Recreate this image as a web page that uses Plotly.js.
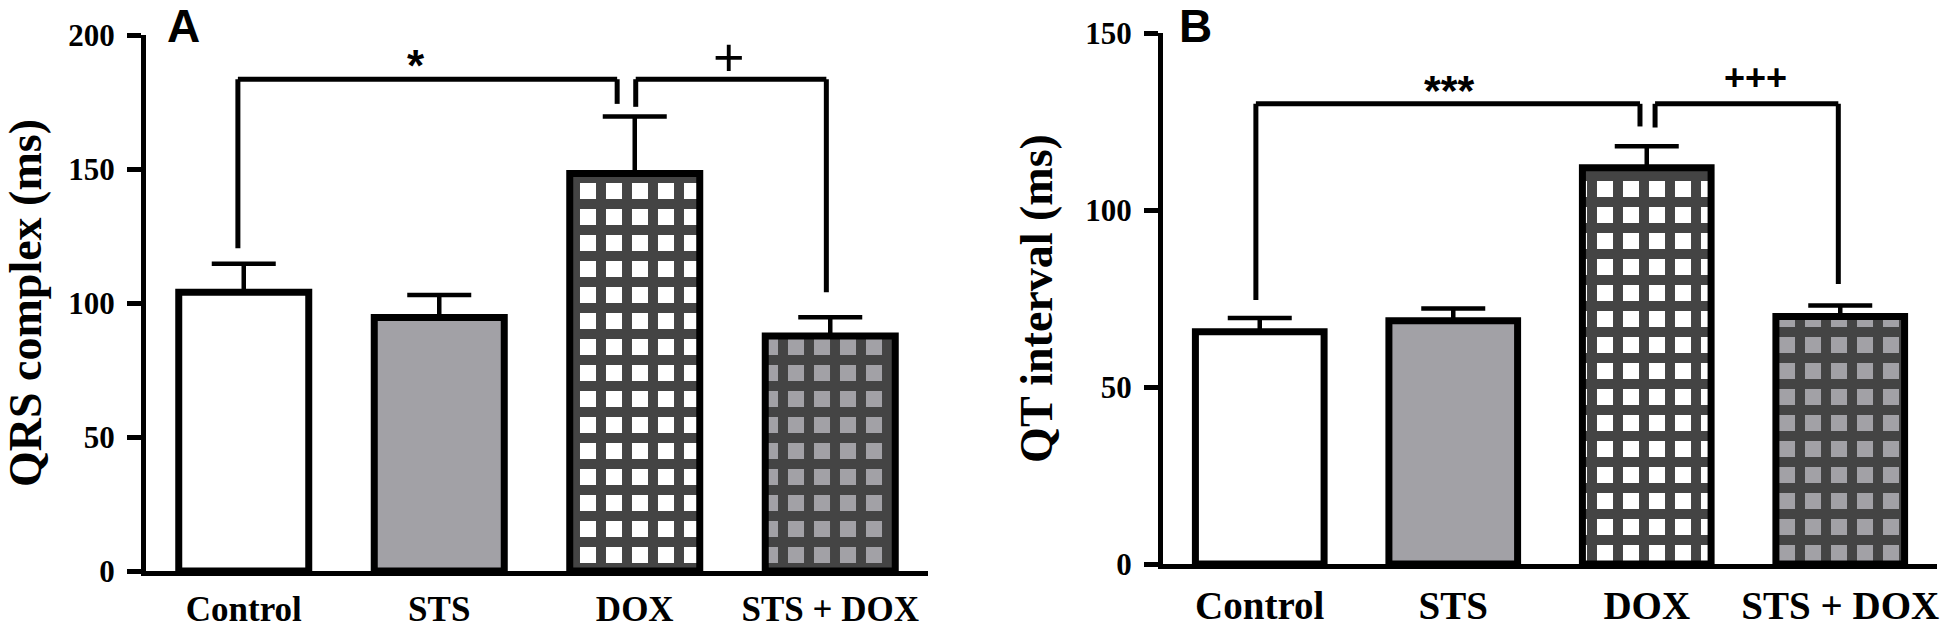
<!DOCTYPE html>
<html>
<head>
<meta charset="utf-8">
<script src="https://cdn.plot.ly/plotly-3.0.1.min.js"></script>
<style>html,body{margin:0;padding:0;background:#fff;}#chart{width:1943px;height:628px;}</style>
</head>
<body>
<div id="chart"></div>
<script>
// ---- data ----
const categories = ['Control', 'STS', 'DOX', 'STS + DOX'];
const qrsMean = [104, 94.6, 148.3, 87.7];
const qrsSem  = [10.6, 8.4, 21.3, 7.0];
const qtMean  = [65.6, 68.7, 111.9, 69.9];
const qtSem   = [3.9, 3.5, 6.1, 3.1];
const qrsTicks = [0, 50, 100, 150, 200];
const qtTicks  = [0, 50, 100, 150];
const qrsTitle = 'QRS complex (ms)';
const qtTitle  = 'QT interval (ms)';
const panelLetters = ['A', 'B'];
// significance comparisons: [fromIndex, toIndex, label]
const qrsSig = [[0, 2, '*'], [2, 3, '+']];
const qtSig  = [[0, 2, '***'], [2, 3, '+++']];

// ---- styles ----
const GRAY = '#a2a1a6';
const fills = ['#ffffff', GRAY, '#ffffff', GRAY];
const patShapes = ['', '', '+', '+'];
const serif = 'Liberation Serif, Times New Roman, serif';
const sans = 'Liberation Sans, Arial, sans-serif';

function barTrace(means, sems, xa, ya) {
  return {
    type: 'bar', x: categories, y: means, xaxis: xa, yaxis: ya,
    width: 0.665, showlegend: false, hoverinfo: 'x+y',
    marker: {
      color: fills,
      line: {color: '#000', width: 7},
      pattern: {shape: patShapes, fgcolor: '#000', bgcolor: fills, fgopacity: 1,
                size: 26, solidity: 0.62, fillmode: 'overlay'}
    },
    error_y: {type: 'data', symmetric: false, array: sems, arrayminus: sems.map(() => 0),
              color: '#000', thickness: 4.5, width: 32}
  };
}

function yAxis(range, ticks, title, domain, anchor, standoff) {
  return {
    domain: domain, anchor: anchor, range: range, tickvals: ticks, ticktext: ticks.map(String),
    showgrid: false, zeroline: false, showline: true, linecolor: '#000', linewidth: 5,
    ticks: 'outside', ticklen: 14, tickwidth: 5, tickcolor: '#000', ticklabelstandoff: 6,
    tickfont: {family: serif, size: 31, color: '#000', weight: 'bold'},
    title: {text: title, font: {family: serif, size: 46, color: '#000', weight: 'bold'}, standoff: standoff},
    fixedrange: true
  };
}
function xAxis(domain, anchor, fsize, standoff) {
  return {
    domain: domain, anchor: anchor, type: 'category', range: [-0.5, 3.5],
    showgrid: false, zeroline: false, showline: true, linecolor: '#000', linewidth: 5,
    ticks: '', ticklabelstandoff: standoff,
    tickfont: {family: serif, size: fsize, color: '#000', weight: 'bold'},
    fixedrange: true
  };
}

// bracket geometry (layout decoration): level and leg bottoms in data units
function brackets(sig, xref, yref, level, legBottoms, legOffsets) {
  const shapes = [];
  sig.forEach((s, i) => {
    const xa = s[0] + legOffsets[i][0], xb = s[1] + legOffsets[i][1];
    const lb = legBottoms[i];
    const ln = {type: 'line', xref: xref, yref: yref, line: {color: '#000', width: 5}};
    shapes.push(Object.assign({}, ln, {x0: xa, x1: xa, y0: lb[0], y1: level}));
    shapes.push(Object.assign({}, ln, {x0: xa, x1: xb, y0: level, y1: level}));
    shapes.push(Object.assign({}, ln, {x0: xb, x1: xb, y0: level, y1: lb[1]}));
  });
  return shapes;
}

const shapes = [].concat(
  brackets(qrsSig, 'x', 'y', 183.5,
           [[120.4, 174.3], [173.2, 104]], [[-0.03, -0.09], [0.005, -0.02]]),
  brackets(qtSig, 'x2', 'y2', 130,
           [[74.6, 123.6], [123.3, 79.1]], [[-0.02, -0.035], [0.043, -0.01]])
);

const annotations = [
  {xref: 'x', yref: 'y', x: 0.88, y: 188.7, text: qrsSig[0][2], showarrow: false,
   font: {family: sans, size: 44, color: '#000', weight: 'bold'}},
  {xref: 'x', yref: 'y', x: 2.48, y: 191.8, text: qrsSig[1][2], showarrow: false,
   font: {family: sans, size: 54, color: '#000'}},
  {xref: 'x2', yref: 'y2', x: 0.98, y: 134, text: qtSig[0][2], showarrow: false,
   font: {family: sans, size: 43, color: '#000', weight: 'bold'}},
  {xref: 'x2', yref: 'y2', x: 2.56, y: 137.3, text: qtSig[1][2], showarrow: false,
   font: {family: sans, size: 36, color: '#000', weight: 'bold'}},
  {xref: 'paper', yref: 'paper', x: 165 / 1943, y: 1 - 26 / 628, xanchor: 'left', yanchor: 'middle',
   text: panelLetters[0], showarrow: false, font: {family: sans, size: 46, color: '#000', weight: 'bold'}},
  {xref: 'paper', yref: 'paper', x: 1177 / 1943, y: 1 - 26 / 628, xanchor: 'left', yanchor: 'middle',
   text: panelLetters[1], showarrow: false, font: {family: sans, size: 46, color: '#000', weight: 'bold'}}
];

const layout = {
  width: 1943, height: 628,
  margin: {l: 0, r: 0, t: 0, b: 0},
  paper_bgcolor: '#fff', plot_bgcolor: '#fff',
  bargap: 0.3,
  xaxis: xAxis([146 / 1943, 928 / 1943], 'y', 35, 3),
  yaxis: yAxis([0, 200], qrsTicks, qrsTitle, [1 - 571 / 628, 1 - 35 / 628], 'x', 28),
  xaxis2: xAxis([1163 / 1943, 1937 / 1943], 'y2', 39, 3),
  yaxis2: yAxis([0, 150], qtTicks, qtTitle, [1 - 564 / 628, 1 - 33 / 628], 'x2', 20),
  shapes: shapes,
  annotations: annotations
};

Plotly.newPlot('chart', [barTrace(qrsMean, qrsSem, 'x', 'y'), barTrace(qtMean, qtSem, 'x2', 'y2')],
               layout, {displayModeBar: false, staticPlot: true});
</script>
</body>
</html>
